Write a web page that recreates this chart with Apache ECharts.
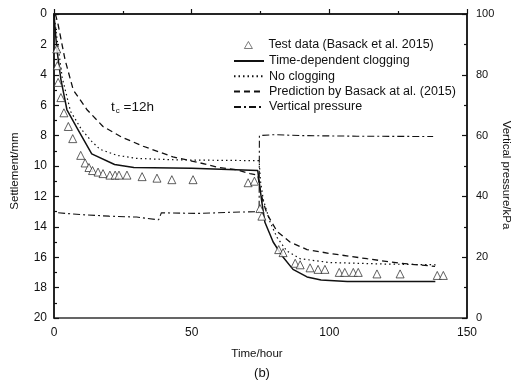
<!DOCTYPE html>
<html><head><meta charset="utf-8">
<script src="https://cdn.jsdelivr.net/npm/echarts@6/dist/echarts.min.js"></script>
<style>html,body{margin:0;padding:0;background:#fff}#c{width:512px;height:383px}</style>
</head><body><div id="c"></div>
<script>
// Time (hour), settlement (mm)
const testData = [[1,2.3],[1.2,3.4],[1.5,4.5],[2.5,5.5],[3.6,6.5],[5.2,7.4],[6.8,8.2],[9.7,9.3],[11.3,9.8],[12.7,10.1],[14,10.3],[16,10.4],[17.8,10.5],[20.3,10.6],[22.2,10.6],[23.6,10.6],[26.5,10.6],[32,10.7],[37.4,10.8],[42.8,10.9],[50.5,10.9],[70.5,11.1],[72.8,11.0],[74.8,12.8],[75.5,13.3],[81.6,15.5],[83.2,15.7],[87.6,16.4],[89.4,16.5],[93,16.7],[95.9,16.8],[98.4,16.8],[103.6,17.0],[105.6,17.0],[108.7,17.0],[110.5,17.0],[117.3,17.1],[125.7,17.1],[139.2,17.2],[141.4,17.2]];
const clogging = [[0,0],[0.5,1.2],[1.1,2.4],[2.5,4.3],[4.7,6.3],[8.7,7.6],[13.7,9.2],[22,9.9],[29,10.1],[50,10.15],[74,10.3],[74.5,11],[75.5,12.4],[76.6,13.7],[79.6,15],[82.8,15.9],[86.8,16.8],[91.9,17.3],[97,17.5],[106.5,17.6],[138.5,17.6]];
const noClogging = [[0,0],[1,1.5],[3,4.2],[6,6.4],[10,7.6],[13.8,8.4],[16.7,8.9],[22.9,9.3],[30,9.5],[45,9.6],[74.5,9.65],[75,11],[76,12.2],[78.5,13.7],[81,14.7],[84.6,15.6],[89.4,16.1],[100,16.35],[120,16.45],[139,16.5]];
const basack = [[0.5,0],[1.5,0.7],[4,3],[7,5],[12,6.3],[17.8,7.4],[24.6,8.1],[32.4,8.7],[43.2,9.4],[52,9.75],[60,10.1],[66.5,10.25],[71.2,10.5],[74,10.6],[74.8,11.5],[76,12.4],[77.5,13.2],[81,14.3],[85.7,15.0],[91.9,15.5],[100,15.75],[113.7,16.1],[125.7,16.4],[138.4,16.6]];
// Time (hour), vertical pressure (kPa)
const pressure = [[1.5,34.6],[10,34],[20,33.5],[30,33.2],[38,32.3],[39,34.6],[53,34.4],[65,34.8],[74.5,35],[74.6,60],[80,60.3],[90,60],[110,59.8],[137.7,59.7]];
const xTicks = [0,50,100,150];
const yLeftTicks = [0,2,4,6,8,10,12,14,16,18,20];
const yRightTicks = [0,20,40,60,80,100];

const FONT = 'Liberation Sans';
const axisCommon = {
  axisLine:{show:true,lineStyle:{color:'#111',width:1.5}},
  axisTick:{show:true,inside:true,length:5,lineStyle:{color:'#111',width:1.2}},
  minorTick:{show:true,splitNumber:2,length:3,lineStyle:{color:'#111',width:1.2}},
  splitLine:{show:false},
  axisLabel:{color:'#111',fontFamily:FONT,fontSize:12}
};
const legendText = {fontFamily:FONT,fontSize:12.5,color:'#111',lineHeight:15};
const chart = echarts.init(document.getElementById('c'));
chart.setOption({
  animation:false,
  backgroundColor:'#fff',
  grid:{left:54,right:45,top:14,bottom:65,show:true,borderColor:'#333',borderWidth:1.5},
  legend:[
    {orient:'vertical',left:244,top:37.5,padding:0,itemWidth:8,itemHeight:7,
      itemStyle:{color:'#fff',borderColor:'#333',borderWidth:0.8},
      textStyle:Object.assign({padding:[0,0,0,11]},legendText),
      data:['Test data (Basack et al. 2015)']},
    {orient:'vertical',left:233,top:53.5,padding:0,itemWidth:30,itemHeight:8,itemGap:0.3,
      itemStyle:{opacity:0},
      textStyle:legendText,
      data:['Time-dependent clogging','No clogging','Prediction by Basack at al. (2015)','Vertical pressure']}
  ],
  xAxis:Object.assign({},axisCommon,{type:'value',min:xTicks[0],max:xTicks[xTicks.length-1],interval:xTicks[1]-xTicks[0],
    axisLabel:Object.assign({},axisCommon.axisLabel,{margin:9})}),
  yAxis:[
    Object.assign({},axisCommon,{type:'value',position:'left',inverse:true,min:yLeftTicks[0],max:yLeftTicks[yLeftTicks.length-1],interval:yLeftTicks[1]-yLeftTicks[0],
      axisLabel:Object.assign({},axisCommon.axisLabel,{margin:7})}),
    Object.assign({},axisCommon,{type:'value',position:'right',min:yRightTicks[0],max:yRightTicks[yRightTicks.length-1],interval:yRightTicks[1]-yRightTicks[0],
      axisLabel:Object.assign({},axisCommon.axisLabel,{margin:9,fontSize:11})})
  ],
  series:[
    {name:'Test data (Basack et al. 2015)',type:'scatter',data:testData,symbol:'triangle',symbolSize:8,z:5,
      itemStyle:{color:'#fff',borderColor:'#222',borderWidth:0.9}},
    {name:'Time-dependent clogging',type:'line',data:clogging,symbol:'none',showSymbol:false,
      lineStyle:{color:'#111',width:1.5,type:'solid'},itemStyle:{color:'#111'}},
    {name:'No clogging',type:'line',data:noClogging,symbol:'none',showSymbol:false,
      lineStyle:{color:'#111',width:1.2,type:[1.5,3]},itemStyle:{color:'#111'}},
    {name:'Prediction by Basack at al. (2015)',type:'line',data:basack,symbol:'none',showSymbol:false,
      lineStyle:{color:'#111',width:1.3,type:[6,4]},itemStyle:{color:'#111'}},
    {name:'Vertical pressure',type:'line',yAxisIndex:1,data:pressure,symbol:'none',showSymbol:false,
      lineStyle:{color:'#111',width:1.1,type:[7,3,2,3]},itemStyle:{color:'#111'}}
  ],
  graphic:[
    {type:'text',left:111,top:100,style:{text:'{a|t}{b|c}{a| =12h}',fill:'#111',
      rich:{a:{fontSize:13.5,fontFamily:FONT,fill:'#111'},b:{fontSize:8,fontFamily:FONT,fill:'#111',padding:[7,0,0,1]}}}},
    {type:'text',x:15,y:171,rotation:Math.PI/2,style:{text:'Settlement/mm',fontSize:11.5,fontFamily:FONT,fill:'#111',align:'center',verticalAlign:'middle'}},
    {type:'text',x:506,y:175,rotation:-Math.PI/2,style:{text:'Vertical pressure/kPa',fontSize:11.5,fontFamily:FONT,fill:'#111',align:'center',verticalAlign:'middle'}},
    {type:'text',x:257,y:354,style:{text:'Time/hour',fontSize:11.5,fontFamily:FONT,fill:'#111',align:'center',verticalAlign:'middle'}},
    {type:'text',x:262,y:373,style:{text:'(b)',fontSize:13,fontFamily:FONT,fill:'#111',align:'center',verticalAlign:'middle'}}
  ]
});
</script></body></html>
